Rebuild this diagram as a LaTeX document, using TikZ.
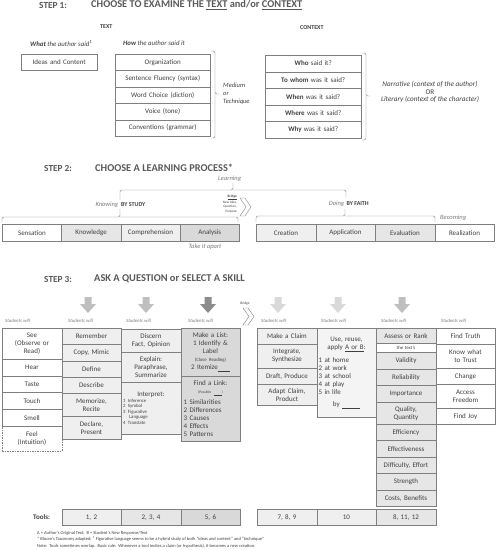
\documentclass[tikz,border=0pt]{standalone}
\usepackage{fontspec}
\setmainfont{Carlito}
\usepackage{tikz}
\usetikzlibrary{positioning}

\definecolor{ink}{HTML}{404040}
\definecolor{rule}{HTML}{7F7F7F}
\definecolor{headgray}{HTML}{595959}
\definecolor{softgray}{HTML}{7A7A7A}
\definecolor{shadeA}{HTML}{EFEFEF}
\definecolor{shadeB}{HTML}{E6E6E6}
\definecolor{shadeC}{HTML}{D9D9D9}
\definecolor{arrowmid}{HTML}{BFBFBF}
\definecolor{arrowdark}{HTML}{8C8C8C}
\definecolor{arrowlight}{HTML}{D9D9D9}

\newcommand{\fsz}[2]{\fontsize{#1}{#2}\selectfont}
\newcommand{\leftlist}{\raggedright\parfillskip=0pt plus 1fil\relax}

\begin{document}
\begin{tikzpicture}[x=1pt,y=-1pt,
    cell/.style={draw=rule, line width=0.45pt, anchor=north west, inner sep=1pt, align=center, text=ink, font=\fsz{7}{8}},
    title/.style={anchor=west, inner sep=0pt, text=headgray, font=\bfseries\fsz{10.4}{11}},
    note/.style={anchor=west, inner sep=0pt, text=softgray, font=\itshape\fsz{6.5}{7.5}},
    head/.style={anchor=west, inner sep=0pt, text=ink, font=\bfseries\fsz{6}{7}},
    bracket/.style={draw=rule, line width=0.4pt, rounded corners=1.5pt},
    chevron/.style={draw=rule, line width=0.4pt, fill=white}]
    \useasboundingbox (0,0) rectangle (496,550);

    % step 1
    \node[title, font=\bfseries\fsz{9.3}{10}] (st1) at (39,5) {STEP 1:};
    \node[title] (ti1) at (91,5) {CHOOSE TO EXAMINE THE \underline{TEXT} and/or \underline{CONTEXT}};
    \node[head] (text) at (100,27) {TEXT};
    \node[head] (context) at (300,28) {CONTEXT};
    \node[note, text=ink, font=\itshape\fsz{6.8}{7.5}] (what) at (30,43) {\textbf{What} the author said\textsuperscript{1}};
    \node[note, text=ink, font=\itshape\fsz{6.8}{7.5}] (how) at (123,43) {\textbf{How} the author said it};
    \node[cell, text width=74pt, minimum height=16pt] (ideas) at (21,54) {Ideas and Content};
    \foreach \t [count=\i from 0] in {Organization, Sentence Fluency (syntax), Word Choice (diction), Voice (tone), Conventions (grammar)}
        \node[cell, text width=93pt, minimum height=16.4pt] (how-\i) at (115,{54+16.4*\i}) {\t};
    \foreach \w/\r [count=\i from 0] in {Who/said it?, To whom/was it said?, When/was it said?, Where/was it said?, Why/was it said?}
        \node[cell, text width=94pt, minimum height=16.6pt] (ctx-\i) at (265,{55+16.6*\i}) {\textbf{\w} \r};
    \draw[bracket] (211,51) -| (215,94) -- (219,94) (215,94) |- (211,138);
    \node[note, text=ink, align=left, font=\itshape\fsz{6.5}{8}] (medium) at (223,94) {Medium\\or\\Technique};
    \draw[bracket] (362,53) -| (366,96) -- (370,96) (366,96) |- (362,140);
    \node[note, text=ink, anchor=center, align=center, font=\itshape\fsz{7.2}{7.8}] (narr) at (430,92) {Narrative (context of the author)\\{\upshape OR}\\Literary (context of the character)};

    % step 2
    \node[title, font=\bfseries\fsz{9.3}{10}] (st2) at (44,168) {STEP 2:};
    \node[title] (ti2) at (95,168) {CHOOSE A LEARNING PROCESS*};
    \node[note] (learning) at (218,179) {Learning};
    \draw[bracket] (120,200) |- (233,190) -- (233,183) (233,190) -| (346,197);
    \node[note, anchor=east] (knowing) at (118.5,205) {Knowing};
    \node[head] (bystudy) at (121,205) {BY STUDY};
    \draw[bracket] (2,222) |- (120,217) -- (120,209) (120,217) -| (238,222);
    \node[anchor=east, align=right, inner sep=0pt, text=ink, font=\fsz{3.4}{4.4}] (bridge2) at (237,204)
        {\textbf{\underline{Bridge}}\\New Idea,\\Question,\\Purpose};
    \draw[chevron] (240,198) -- (245,198) -- (251,207) -- (245,216) -- (240,216) -- (246,207) -- cycle;
    \node[note, anchor=east] (doing) at (344.5,204) {Doing};
    \node[head] (byfaith) at (346.5,204) {BY FAITH};
    \draw[bracket] (256,222) |- (345,216) -- (345,209) (345,216) -| (435,222);
    \node[note] (becoming) at (440,218) {Becoming};
    \foreach \t/\f [count=\i from 0] in {Sensation/white, Knowledge/shadeB, Comprehension/shadeA, Analysis/shadeC}
        \node[cell, fill=\f, text width=57.3pt, minimum height=17pt] (know-\i) at ({2+59.3*\i},224) {\t};
    \foreach \t/\f [count=\i from 0] in {Creation/shadeA, Application/shadeA, Evaluation/shadeB, Realization/white}
        \node[cell, fill=\f, text width=57.5pt, minimum height=17pt] (do-\i) at ({256+59.5*\i},224) {\t};
    \node[note, anchor=center] (apart) at (205,247) {Take it apart};

    % step 3
    \node[title, font=\bfseries\fsz{9.3}{10}] (st3) at (44,279) {STEP 3:};
    \node[title] (ti3) at (94,279) {ASK A QUESTION or SELECT A SKILL};
    \foreach \x/\c in {88/arrowmid, 146/arrowmid, 208/arrowdark, 278/arrowlight, 338/arrowlight, 402/arrowmid}
        \fill[\c] (\x-3.5,297) -- (\x+3.5,297) -- (\x+3.5,304) -- (\x+8,304) -- (\x,313) -- (\x-8,304) -- (\x-3.5,304) -- cycle;
    \node[inner sep=0pt, text=ink, font=\fsz{3.6}{4}] (bridge3) at (245,304) {Bridge};
    \draw[chevron] (243,308) -- (248,308) -- (254,316.5) -- (248,325) -- (243,325) -- (249,316.5) -- cycle;
    \foreach \x [count=\i] in {5, 68, 126, 188, 261, 321, 381, 441}
        \node[note, font=\itshape\fsz{4.8}{5.5}] (will-\i) at (\x,321) {Students will};

    % columns
    \foreach \y/\h/\t [count=\i] in {328/31/{See\\(Observe or\\Read)}, 359/17/Hear, 376/16/Taste, 392/17/Touch, 409/17/Smell}
        \node[cell, fill=white, text width=57.5pt, minimum height=\h pt] (sense-\i) at (2,\y) {\t};
    \node[cell, dash pattern=on 1.5pt off 1pt, text width=57.5pt, minimum height=25pt] (feel) at (2,426) {Feel\\(Intuition)};

    \foreach \y/\h/\t [count=\i] in {328/16/Remember, 344/17/{Copy, Mimic}, 361/16/Define, 377/16/Describe, 393/23/{Memorize,\\Recite}, 416/23/{Declare,\\Present}}
        \node[cell, fill=shadeA, text width=57.5pt, minimum height=\h pt] (recall-\i) at (61.5,\y) {\t};

    \node[cell, fill=shadeA, text width=57.5pt, minimum height=23pt] (discern) at (121,329) {Discern\\Fact, Opinion};
    \node[cell, fill=shadeA, text width=57.5pt, minimum height=30pt] (explain) at (121,352) {Explain:\\Paraphrase,\\Summarize};
    \node[cell, fill=shadeA, text width=57.5pt, minimum height=52pt] (interp) at (121,382)
        {Interpret:\par\leftlist\leftskip=1pt\fsz{4.8}{5.6}1 Inference\\2 Symbol\\3 Figurative\\\hspace*{6pt}Language\\4 Translate\par};

    \node[cell, fill=shadeC, text width=57.5pt, minimum height=48pt] (list) at (180.5,328)
        {Make a List:\\1 Identify \&\\Label\\{\fsz{4.8}{5.6}(Close Reading)}\\2 Itemize\underline{\hspace{12pt}}};
    \node[cell, fill=shadeC, text width=57.5pt, minimum height=65pt] (link) at (180.5,376)
        {Find a Link:\\{\fsz{3.6}{4.5}(Possible \underline{\hspace{8pt}})}\par\vspace{3pt}\leftlist\leftskip=2pt 1 Similarities\\2 Differences\\3 Causes\\4 Effects\\5 Patterns\par};

    \foreach \y/\h/\t [count=\i] in {328/16/Make a Claim, 344/24/{Integrate,\\Synthesize}, 368/16/{Draft, Produce}, 384/21/{Adapt Claim,\\Product}}
        \node[cell, fill=shadeA, text width=57.5pt, minimum height=\h pt] (claim-\i) at (257,\y) {\t};

    \node[cell, fill=shadeA!70!white, text width=57.5pt, minimum height=89pt] (apply) at (316.5,328)
        {Use, reuse,\\apply \underline{A or B}:\par\vspace{5pt}\leftlist\leftskip=1pt 1 at home\\2 at work\\3 at school\\4 at play\\5 in life\par\vspace{4pt}\centering by \underline{\hspace{18pt}}};

    \foreach \y/\h/\t [count=\i] in {328/15/Assess or Rank, 352/17/Validity, 369/16/Reliability, 385/17/Importance, 402/22/{Quality,\\Quantity}, 424/16/Efficiency, 440/17/Effectiveness, 457/16/{Difficulty, Effort}, 473/17/Strength, 490/16/{Costs, Benefits}}
        \node[cell, fill=shadeB, text width=57.5pt, minimum height=\h pt] (rank-\i) at (376,\y) {\t};
    \node[cell, fill=white, text width=57.5pt, minimum height=9pt, font=\fsz{4.8}{5}] (texts) at (376,343) {the text's};

    \foreach \y/\h/\t [count=\i] in {328/16/Find Truth, 344/24/{Know what\\to Trust}, 368/16/Change, 384/24/{Access\\Freedom}, 408/16/Find Joy}
        \node[cell, fill=white, text width=57.5pt, minimum height=\h pt] (goal-\i) at (435.5,\y) {\t};

    % tools
    \node[head, font=\bfseries\fsz{7}{8}] (tools) at (33,517) {Tools:};
    \foreach \x/\t/\f [count=\i] in {61.5/{1, 2}/shadeA, 121/{2, 3, 4}/shadeB, 180.5/{5, 6}/shadeC, 257/{7, 8, 9}/shadeA, 316.5/10/shadeA, 376/{8, 11, 12}/shadeB}
        \node[cell, fill=\f, text width=57.5pt, minimum height=16pt] (tool-\i) at (\x,509) {\t};

    \node[anchor=west, align=left, inner sep=0pt, text=ink, font=\fsz{4.5}{6.5}] (notes) at (37,539.5)
        {A = Author's Original Text;\ \ B = Student's New Response/Text\\
         * Bloom's Taxonomy adapted; \textsuperscript{1} Figurative language seems to be a hybrid study of both ``ideas and content'' and ``technique''\\
         Note:\ \ Tools sometimes overlap.\ \ Basic rule:\ \ Whenever a tool invites a claim (or hypothesis), it becomes a new creation.};
\end{tikzpicture}
\end{document}
